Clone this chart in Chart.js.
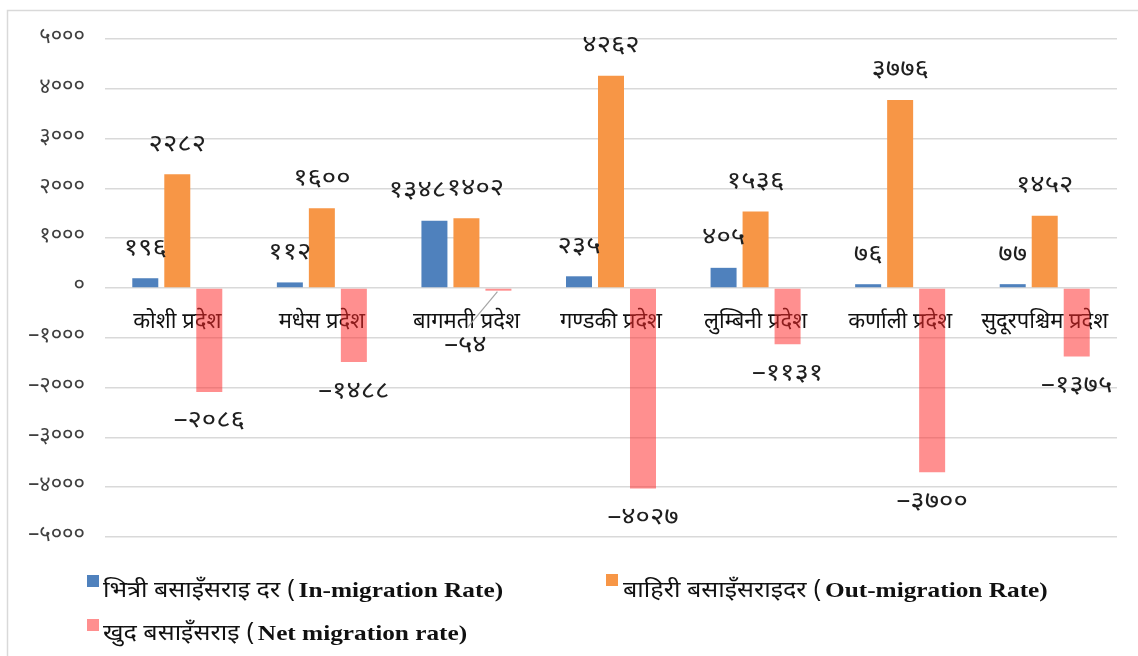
<!DOCTYPE html>
<html>
<head>
<meta charset="utf-8">
<script src="https://cdn.jsdelivr.net/npm/chart.js@4.4.1/dist/chart.umd.min.js"></script>
<style>
  html, body { margin: 0; padding: 0; background: #ffffff; }
  #wrap { position: relative; width: 1138px; height: 656px; overflow: hidden; }
  canvas { display: block; }
</style>
</head>
<body>
<div id="wrap"><canvas id="c" width="1138" height="656"></canvas></div>
<script>
// ---------- data ----------
const categories = ['कोशी प्रदेश', 'मधेस प्रदेश', 'बागमती प्रदेश', 'गण्डकी प्रदेश', 'लुम्बिनी प्रदेश', 'कर्णाली प्रदेश', 'सुदूरपश्चिम प्रदेश'];
const inMigration  = [196, 112, 1348, 235, 405, 76, 77];
const outMigration = [2282, 1600, 1402, 4262, 1536, 3776, 1452];
const netMigration = [-2086, -1488, -54, -4027, -1131, -3700, -1375];
const yMin = -5000, yMax = 5000, yStep = 1000;
const seriesNamesNe = ['भित्री बसाइँसराइ दर (', 'बाहिरी बसाइँसराइदर (', 'खुद बसाइँसराइ ('];
const seriesNamesEn = ['In-migration Rate)', 'Out-migration Rate)', 'Net migration rate)'];

// ---------- helpers ----------
const DEV_DIGITS = '०१२३४५६७८९';
function toDev(n) {
  const s = String(n);
  let out = '';
  for (const ch of s) {
    if (ch >= '0' && ch <= '9') out += DEV_DIGITS[+ch];
    else if (ch === '-') out += '–';
    else out += ch;
  }
  return out;
}
const DEVA = '"Noto Sans Devanagari", "Lohit Devanagari", "Mangal", "FreeSans", "Noto Sans", sans-serif';
const colors = ['#4F81BD', '#F79646', 'rgba(255, 40, 40, 0.52)'];

function stretchText(ctx, text, x, y, sx) {
  ctx.save();
  ctx.translate(x, y);
  ctx.scale(sx, 1);
  ctx.fillText(text, 0, 0);
  ctx.restore();
}

// ---------- plugins ----------
const framePlugin = {
  id: 'frame',
  beforeDraw(chart) {
    const ctx = chart.ctx;
    ctx.save();
    ctx.strokeStyle = '#d9d9d9';
    ctx.lineWidth = 1.5;
    ctx.strokeRect(7.5, 10.5, 1300, 800);
    ctx.restore();
  }
};

// nudges for overlapping labels (dx, dy added to the default place)
const labelNudge = { '0-2': [-17, 0], '1-2': [9, 0] };

const valueLabels = {
  id: 'valueLabels',
  afterDatasetsDraw(chart) {
    const ctx = chart.ctx;
    ctx.save();
    ctx.font = '24px ' + DEVA;
    ctx.fillStyle = '#1f1f1f';
    ctx.textAlign = 'center';
    ctx.textBaseline = 'middle';
    chart.data.datasets.forEach((ds, di) => {
      const meta = chart.getDatasetMeta(di);
      meta.data.forEach((el, i) => {
        const v = ds.data[i];
        let x = el.x, y = v >= 0 ? el.y - 28 : el.y + 31;
        const nud = labelNudge[di + '-' + i];
        if (nud) { x += nud[0]; y += nud[1]; }
        if (di === 2 && Math.abs(v) < 200) {
          ctx.save();
          ctx.strokeStyle = '#a6a6a6';
          ctx.lineWidth = 1.2;
          ctx.beginPath();
          ctx.moveTo(el.x - 1, el.y + 1);
          ctx.lineTo(el.x - 31, el.y + 37);
          ctx.stroke();
          ctx.restore();
          x = el.x - 33; y = el.y + 57;
        }
        stretchText(ctx, toDev(v), x, y, 1.15);
      });
    });
    ctx.restore();
  }
};

const customLegend = {
  id: 'customLegend',
  afterDraw(chart) {
    const ctx = chart.ctx;
    const items = [
      { sx: 87, sy: 575, tx: 103, ty: 597 },
      { sx: 606, sy: 574, tx: 623, ty: 597 },
      { sx: 87, sy: 619, tx: 103, ty: 640 }
    ];
    ctx.save();
    ctx.textBaseline = 'alphabetic';
    ctx.textAlign = 'left';
    items.forEach((it, i) => {
      ctx.fillStyle = colors[i];
      ctx.fillRect(it.sx, it.sy, 12, 12);
      ctx.fillStyle = '#111111';
      ctx.font = '22px ' + DEVA;
      const sNe = 1.14;
      stretchText(ctx, seriesNamesNe[i], it.tx, it.ty, sNe);
      const w = ctx.measureText(seriesNamesNe[i]).width * sNe;
      ctx.font = 'bold 22px "Liberation Serif", "Times New Roman", serif';
      stretchText(ctx, seriesNamesEn[i], it.tx + w + 3, it.ty, 1.15);
    });
    ctx.restore();
  }
};

// ---------- chart ----------
new Chart(document.getElementById('c'), {
  type: 'bar',
  data: {
    labels: categories,
    datasets: [
      { label: seriesNamesNe[0] + seriesNamesEn[0], data: inMigration, backgroundColor: colors[0] },
      { label: seriesNamesNe[1] + seriesNamesEn[1], data: outMigration, backgroundColor: colors[1] },
      { label: seriesNamesNe[2] + seriesNamesEn[2], data: netMigration, backgroundColor: colors[2] }
    ]
  },
  options: {
    responsive: false,
    animation: false,
    events: [],
    categoryPercentage: 0.664,
    barPercentage: 0.8125,
    layout: { padding: { top: 39, bottom: 119, right: 21, left: 0 } },
    plugins: {
      legend: { display: false },
      tooltip: { enabled: false },
      title: { display: false }
    },
    scales: {
      x: {
        position: { y: 0 },
        grid: { display: false, drawTicks: false },
        border: { display: false },
        ticks: {
          color: '#111111',
          padding: 23,
          maxRotation: 0,
          autoSkip: false,
          font: { family: DEVA, size: 22 }
        }
      },
      y: {
        min: yMin, max: yMax,
        afterFit(scale) { scale.width = 105; },
        grid: { color: '#d9d9d9', lineWidth: 1.5, drawTicks: false },
        border: { display: false },
        ticks: {
          stepSize: yStep,
          padding: 20,
          color: '#404040',
          font: { family: DEVA, size: 22 },
          callback: (v) => toDev(v)
        }
      }
    }
  },
  plugins: [framePlugin, valueLabels, customLegend]
});
</script>
</body>
</html>
